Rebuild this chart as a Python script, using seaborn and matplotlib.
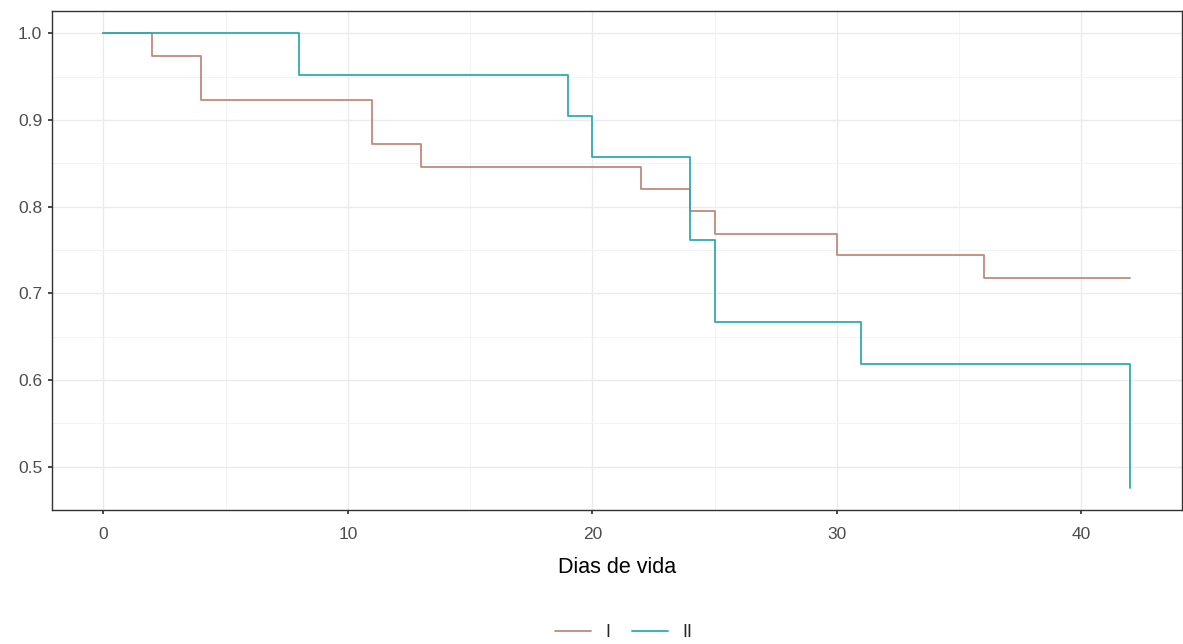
import pandas as pd
import seaborn as sns
import matplotlib.pyplot as plt
from matplotlib.ticker import MultipleLocator

# Kaplan-Meier steps
time_i = [0, 2, 4, 11, 13, 22, 24, 25, 30, 36, 42]
surv_i = [1.0, 0.974, 0.923, 0.872, 0.846, 0.821, 0.795, 0.769, 0.744, 0.718, 0.718]

time_ii = [0, 8, 19, 20, 24, 25, 31, 42, 42]
surv_ii = [1.0, 0.952, 0.905, 0.857, 0.762, 0.667, 0.619, 0.619, 0.476]

groups = ["I", "II"]
colors = ["#C28A7C", "#2EAAB4"]

df = pd.concat([
    pd.DataFrame({"time": time_i, "surv": surv_i, "grupo": "I"}),
    pd.DataFrame({"time": time_ii, "surv": surv_ii, "grupo": "II"}),
])

sns.set_theme(style="white")
plt.rcParams["font.family"] = ["Liberation Sans", "DejaVu Sans"]

fig = plt.figure(figsize=(11.83, 6.44), dpi=100)
ax = fig.add_axes([0.044, 0.2080, 0.9548, 0.7750])

sns.lineplot(
    data=df,
    x="time",
    y="surv",
    hue="grupo",
    hue_order=groups,
    palette=colors,
    drawstyle="steps-post",
    linewidth=1.3,
    sort=False,
    estimator=None,
    ax=ax,
)

ax.set_xlim(-2.1, 44.1)
ax.set_ylim(0.45, 1.026)
ax.xaxis.set_major_locator(MultipleLocator(10))
ax.xaxis.set_minor_locator(MultipleLocator(5))
ax.yaxis.set_major_locator(MultipleLocator(0.1))
ax.yaxis.set_minor_locator(MultipleLocator(0.05))
ax.yaxis.set_major_formatter(plt.FormatStrFormatter("%.1f"))

ax.grid(which="major", color="#EBEBEB", linewidth=1.0)
ax.grid(which="minor", color="#F3F3F3", linewidth=0.7)
ax.set_axisbelow(True)

for spine in ax.spines.values():
    spine.set_color("#333333")
    spine.set_linewidth(1.0)

ax.tick_params(axis="both", which="major", length=3, color="#333333",
               labelsize=12.5, labelcolor="#4D4D4D", bottom=True, left=True)
ax.tick_params(axis="x", which="major", pad=9)
ax.tick_params(axis="y", which="major", pad=4)
ax.tick_params(axis="both", which="minor", length=0)

ax.set_xlabel("Dias de vida", fontsize=15.5, color="black", labelpad=11)
ax.set_ylabel("")

handles, labels = ax.get_legend_handles_labels()
ax.get_legend().remove()
fig.legend(
    handles,
    labels,
    loc="center",
    bbox_to_anchor=(0.527, 0.018),
    ncol=2,
    frameon=False,
    fontsize=13,
    handlelength=2.0,
    columnspacing=1.2,
    handletextpad=0.8,
)

plt.savefig("out.png", dpi=100)
